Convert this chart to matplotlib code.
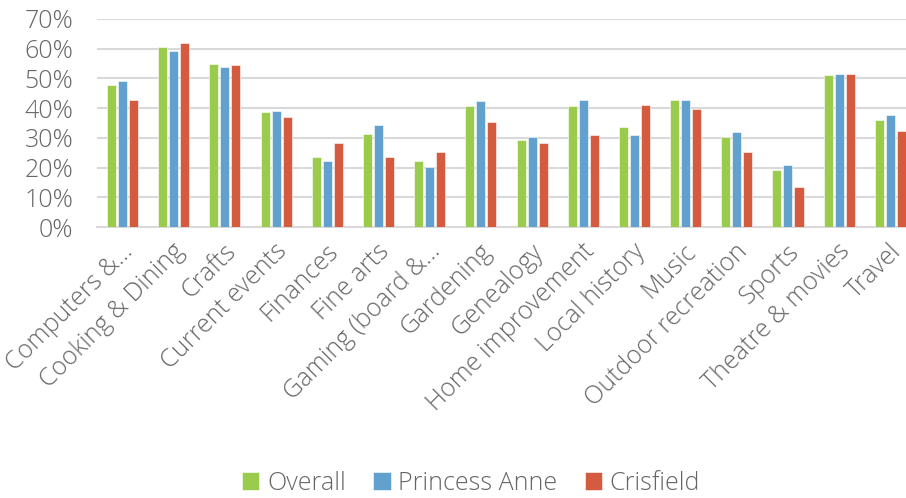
import matplotlib
matplotlib.use("Agg")
import matplotlib.pyplot as plt
from matplotlib.ticker import PercentFormatter
import numpy as np

categories = ["Computers &...", "Cooking & Dining", "Crafts", "Current events",
              "Finances", "Fine arts", "Gaming (board &...", "Gardening",
              "Genealogy", "Home improvement", "Local history", "Music",
              "Outdoor recreation", "Sports", "Theatre & movies", "Travel"]
overall = [47.8, 60.5, 55.0, 38.6, 23.5, 31.3, 22.3, 40.7,
           29.3, 40.7, 33.7, 42.8, 30.2, 19.2, 51.1, 36.1]
princess_anne = [49.1, 59.2, 53.9, 39.0, 22.1, 34.2, 20.3, 42.4,
                 30.4, 42.8, 30.9, 42.8, 31.9, 20.9, 51.6, 37.6]
crisfield = [42.7, 61.9, 54.5, 36.9, 28.2, 23.7, 25.1, 35.3,
             28.2, 31.0, 41.2, 39.8, 25.1, 13.4, 51.6, 32.4]
series_names = ["Overall", "Princess Anne", "Crisfield"]
colors = ["#9BCB4D", "#62A1CD", "#D45A40"]

plt.rcParams['font.family'] = ['Open Sans', 'DejaVu Sans']
plt.rcParams['font.weight'] = 300
grey = "#666666"

fig = plt.figure(figsize=(9.06, 4.98), dpi=100)
ax = fig.add_axes([0.107, 0.544, 0.904, 0.418])

x = np.arange(len(categories))
w = 0.176
step = 0.215
for i, (vals, c) in enumerate(zip([overall, princess_anne, crisfield], colors)):
    ax.bar(x + (i - 1) * step, np.array(vals) / 100, width=w, color=c,
           edgecolor="white", linewidth=0.4, label=series_names[i], zorder=3)

ax.set_xlim(-0.5, len(categories) - 0.5)
ax.set_ylim(0, 0.7)
ax.set_yticks(np.arange(0, 0.71, 0.1))
ax.yaxis.set_major_formatter(PercentFormatter(1.0, decimals=0))
ax.grid(axis="y", color="#d9d9d9", linewidth=1.5, zorder=0)
for s in ["top", "right", "left"]:
    ax.spines[s].set_visible(False)
ax.spines["bottom"].set_color("#d9d9d9")
ax.spines["bottom"].set_linewidth(1.5)
ax.tick_params(axis="both", length=0, labelsize=18, colors=grey)
ax.tick_params(axis="y", pad=17)

ax.set_xticks(x + 0.14)
ax.set_xticklabels(categories, rotation=45, ha="right", va="center",
                   rotation_mode="anchor", fontsize=18, color=grey)
ax.tick_params(axis="x", pad=15)

leg = fig.legend(loc="center", bbox_to_anchor=(0.52, 0.03), ncol=3, frameon=False,
                 fontsize=18, handlelength=0.7, handleheight=0.7,
                 handletextpad=0.3, columnspacing=1.1, labelcolor=grey)

fig.savefig("out.png", dpi=100)
